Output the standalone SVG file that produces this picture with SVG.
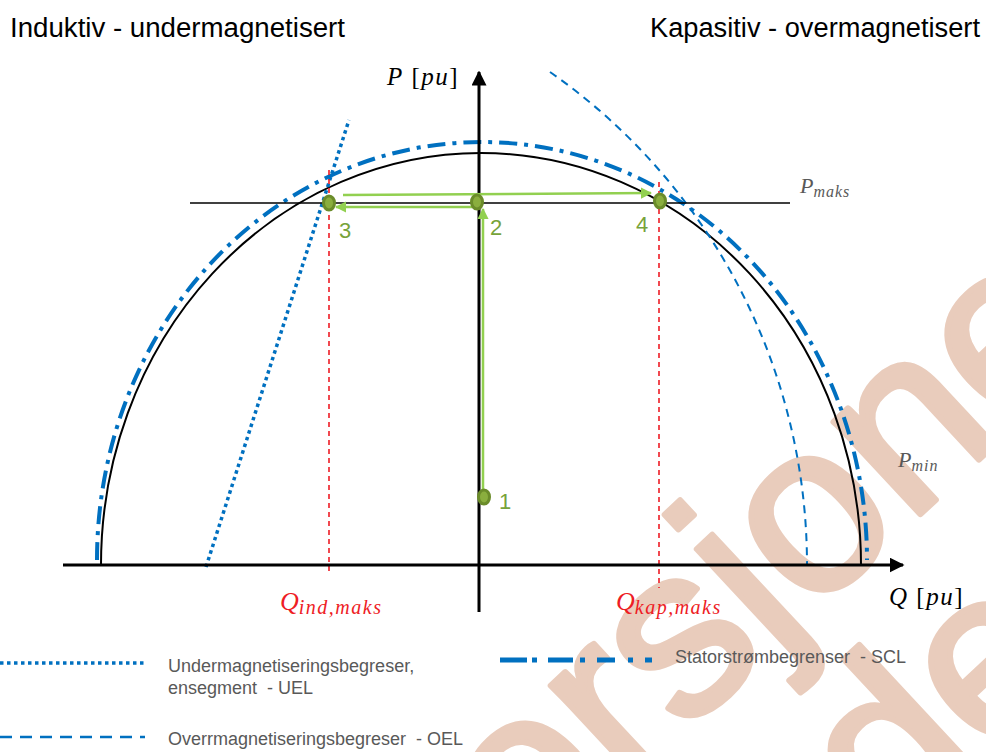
<svg xmlns="http://www.w3.org/2000/svg" width="986" height="752" viewBox="0 0 986 752">
<style>
.title{font-family:"Liberation Sans",Arial,sans-serif;font-size:27px;fill:#000}
.leg{font-family:"Liberation Sans",Arial,sans-serif;font-size:18px;fill:#595959}
.math{font-family:"Liberation Serif","DejaVu Serif",serif;font-style:italic}
.num{font-family:"Liberation Sans",Arial,sans-serif;font-size:22px;fill:#77a33a}
.scl{fill:none;stroke:#0070c0;stroke-width:4;stroke-dasharray:18 7 4 7}
.uel{fill:none;stroke:#0070c0;stroke-width:3.5;stroke-dasharray:3.5 3.5}
.oel{fill:none;stroke:#0070c0;stroke-width:2;stroke-dasharray:8 6}
.red{fill:none;stroke:#ee1c25;stroke-width:1.6;stroke-dasharray:5 4}
.garr{fill:none;stroke:#92d050;stroke-width:2.5}
.pt{fill:#8aae3e;stroke:#6b8c2a;stroke-width:3}
.wm{font-family:"Liberation Sans",Arial,sans-serif;font-size:240px;fill:#e9ccbc;stroke:#e9ccbc;stroke-width:6;stroke-linejoin:round}
</style>
<defs>
<marker id="ga" viewBox="0 0 10 10" refX="9" refY="5" markerWidth="4.5" markerHeight="4.5" orient="auto" markerUnits="strokeWidth">
<path d="M0,0 L10,5 L0,10 z" fill="#92d050"/>
</marker>
<marker id="ka" viewBox="0 0 10 10" refX="9" refY="5" markerWidth="5" markerHeight="5" orient="auto" markerUnits="strokeWidth">
<path d="M0,0 L10,5 L0,10 z" fill="#000"/>
</marker>
</defs>
<rect width="986" height="752" fill="#fff"/>
<g id="watermark">
<text class="wm" x="440" y="962" transform="rotate(-43 440 962)">versjone</text>
<text class="wm" x="892" y="852" transform="rotate(-43 892 852)">de</text>
</g>
<g id="titles">
<text class="title" x="10" y="37" textLength="335" lengthAdjust="spacingAndGlyphs">Induktiv - undermagnetisert</text>
<text class="title" x="650" y="37" textLength="330" lengthAdjust="spacingAndGlyphs">Kapasitiv - overmagnetisert</text>
</g>
<g id="curves">
<path id="scl" class="scl" d="M 97 560 A 385 418 0 0 1 867 560"/>
<path id="capability" d="M 101 565 A 380 412 0 0 1 861 565" fill="none" stroke="#000" stroke-width="2"/>
<line id="uel" class="uel" x1="206" y1="567" x2="349" y2="120"/>
<path id="oel" class="oel" d="M 550 72 A 601 601 0 0 1 807 565"/>
<line id="pmaks-line" x1="190" y1="203" x2="790" y2="203" stroke="#000" stroke-width="1.6"/>
<line class="red" x1="329" y1="170" x2="329" y2="574"/>
<line class="red" x1="659" y1="182" x2="659" y2="588"/>
</g>
<g id="axes">
<line x1="63" y1="565" x2="903" y2="565" stroke="#000" stroke-width="3" marker-end="url(#ka)"/>
<line x1="479" y1="612" x2="479" y2="72" stroke="#000" stroke-width="3" marker-end="url(#ka)"/>
</g>
<g id="connectors">
<line class="garr" x1="483" y1="495" x2="483" y2="209" marker-end="url(#ga)"/>
<line class="garr" x1="472" y1="207" x2="336" y2="207" marker-end="url(#ga)"/>
<line class="garr" x1="343" y1="195" x2="651" y2="193" marker-end="url(#ga)"/>
</g>
<g id="point1"><ellipse class="pt" cx="484" cy="497" rx="5.5" ry="7"/><text class="num" x="499" y="509">1</text></g>
<g id="point2"><ellipse class="pt" cx="477" cy="202" rx="5.5" ry="7"/><text class="num" x="490" y="235">2</text></g>
<g id="point3"><ellipse class="pt" cx="329" cy="203" rx="5.5" ry="7"/><text class="num" x="339" y="238">3</text></g>
<g id="point4"><ellipse class="pt" cx="660" cy="201" rx="5.5" ry="7"/><text class="num" x="636" y="232">4</text></g>
<g id="labels">
<text x="387" y="85" font-size="25" letter-spacing="1.5" font-family="Liberation Serif,serif" fill="#000"><tspan font-style="italic">P</tspan> [<tspan font-style="italic">pu</tspan>]</text>
<text x="889" y="605" font-size="25" letter-spacing="1.5" font-family="Liberation Serif,serif" fill="#000"><tspan font-style="italic">Q</tspan> [<tspan font-style="italic">pu</tspan>]</text>
<text class="math" x="280" y="610" font-size="26" fill="#ee1c25">Q<tspan font-size="20" dy="4" letter-spacing="1.5">ind,maks</tspan></text>
<text class="math" x="616" y="610" font-size="26" fill="#ee1c25">Q<tspan font-size="20" dy="4" letter-spacing="1.5">kap,maks</tspan></text>
<text class="math" x="800" y="193" font-size="22" fill="#595959">P<tspan font-size="16" dy="4" letter-spacing="1">maks</tspan></text>
<text class="math" x="898" y="467" font-size="22" fill="#595959">P<tspan font-size="16" dy="4" letter-spacing="1">min</tspan></text>
</g>
<g id="legend">
<line class="uel" x1="0" y1="663" x2="145" y2="663"/>
<text class="leg" x="168" y="672">Undermagnetiseringsbegreser,</text>
<text class="leg" x="168" y="694">ensegment &#160;- UEL</text>
<line x1="0" y1="737" x2="145" y2="737" stroke="#0070c0" stroke-width="2.5" stroke-dasharray="12 8"/>
<text class="leg" x="168" y="745">Overrmagnetiseringsbegreser &#160;- OEL</text>
<path d="M500 660 H652" stroke="#0070c0" stroke-width="5" fill="none" stroke-dasharray="27 5 5 11 25 7 5 12 18 13 5 12 7 100"/>
<text class="leg" x="675" y="663">Statorstrømbegrenser &#160;- SCL</text>
</g>
</svg>
